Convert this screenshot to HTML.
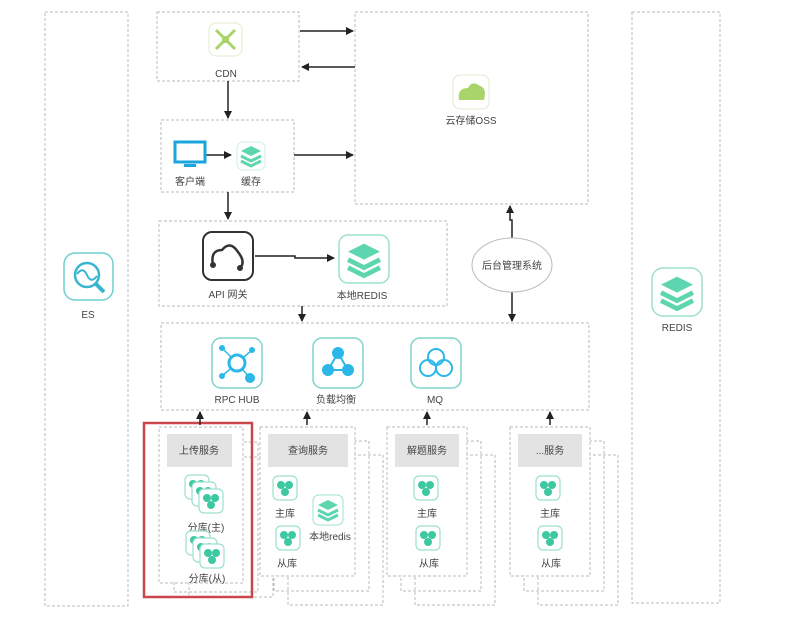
<!DOCTYPE html>
<html><head><meta charset="utf-8"><style>
body{margin:0;background:#fff;}
svg{display:block;font-family:"Liberation Sans","Noto Sans CJK SC",sans-serif;}
text{font-size:10px;fill:#444;text-anchor:middle;}
</style></head><body>
<svg width="791" height="621" viewBox="0 0 791 621" xmlns="http://www.w3.org/2000/svg">
<defs>
<marker id="a" markerWidth="8" markerHeight="8" refX="7" refY="4" orient="auto" markerUnits="userSpaceOnUse"><path d="M0,0 L8,4 L0,8 z" fill="#222"/></marker>
<g id="db"><rect x="-12" y="-12" width="24" height="24" rx="5" fill="#fff" stroke="#9de0cc" stroke-width="1.2"/><circle cx="-4" cy="-3" r="4" fill="#3cc8a0"/><circle cx="4" cy="-3" r="4" fill="#3cc8a0"/><circle cx="0" cy="4" r="4" fill="#3cc8a0"/></g>
<g id="stk"><path d="M-10,-4 L0,-9 L10,-4 L0,1z" fill="#5dd6b0"/><path d="M-10,1 L0,6 L10,1 M-10,6 L0,11 L10,6" fill="none" stroke="#5dd6b0" stroke-width="3"/></g>
</defs>
<g fill="none" stroke="#bbb" stroke-width="1" stroke-dasharray="3,2">
<rect x="45" y="12" width="83" height="594"/>
<rect x="632" y="12" width="88" height="591"/>
<rect x="157" y="12" width="142" height="69"/>
<rect x="355" y="12" width="233" height="192"/>
<rect x="161" y="120" width="133" height="72"/>
<rect x="159" y="221" width="288" height="85"/>
<rect x="161" y="323" width="428" height="87"/>
<rect x="189" y="457" width="84" height="140"/><rect x="174" y="442" width="84" height="150"/>
<rect x="288" y="455" width="95" height="150"/><rect x="274" y="441" width="95" height="150"/>
<rect x="415" y="455" width="80" height="150"/><rect x="401" y="441" width="80" height="150"/>
<rect x="538" y="455" width="80" height="150"/><rect x="524" y="441" width="80" height="150"/>
</g>
<g fill="#fff"><rect x="159.5" y="427.5" width="83" height="155"/><rect x="260.5" y="427.5" width="94" height="148"/><rect x="387.5" y="427.5" width="79" height="148"/><rect x="510.5" y="427.5" width="79" height="148"/></g>
<g fill="none" stroke="#bbb" stroke-dasharray="3,2"><rect x="159" y="427" width="84" height="156"/><rect x="260" y="427" width="95" height="149"/><rect x="387" y="427" width="80" height="149"/><rect x="510" y="427" width="80" height="149"/></g>
<rect x="144" y="423" width="108" height="174" fill="none" stroke="#c9474a" stroke-width="2.5"/>
<g fill="#e3e3e3"><rect x="167" y="434" width="65" height="33"/><rect x="268" y="434" width="80" height="33"/><rect x="395" y="434" width="64" height="33"/><rect x="518" y="434" width="64" height="33"/></g>
<text x="199" y="454">上传服务</text><text x="308" y="454">查询服务</text><text x="427" y="454">解题服务</text><text x="550" y="454">...服务</text>
<g stroke="#222" stroke-width="1.5" fill="none" marker-end="url(#a)">
<path d="M300,31 H353"/><path d="M355,67 H302"/>
<path d="M228,81 V118"/><path d="M294,155 H353"/><path d="M228,192 V219"/>
<path d="M204,155 H231"/>
<path d="M255,256 H295 V258 H334"/>
<path d="M302,306 V321"/>
<path d="M512,238 V220 H510 V206"/><path d="M512,292 V321"/>
<path d="M200,425 V412"/><path d="M307,425 V412"/><path d="M427,425 V412"/><path d="M550,425 V412"/>
</g>
<ellipse cx="512" cy="265" rx="40" ry="27" fill="#fff" stroke="#bbb"/>
<text x="512" y="269" font-size="9">后台管理系统</text>
<rect x="209" y="23" width="33" height="33" rx="7" fill="#fff" stroke="#dfeecb"/>
<path d="M216,30 L235,49 M235,30 L216,49" stroke="#a8d46a" stroke-width="3"/><rect x="222" y="36" width="7" height="7" fill="#a8d46a"/>
<text x="226" y="77">CDN</text>
<rect x="453" y="75" width="36" height="34" rx="7" fill="#fff" stroke="#dfeecb"/>
<path d="M459,100 Q457,88 468,88 Q472,80 480,86 Q487,88 484,100z" fill="#a8d46a"/>
<text x="471" y="124">云存储OSS</text>
<rect x="175" y="142" width="30" height="20" fill="#fff" stroke="#1aa6dd" stroke-width="3"/><rect x="184" y="164" width="12" height="3" fill="#1aa6dd"/>
<text x="190" y="185" font-size="9">客户端</text>
<rect x="237" y="142" width="28" height="28" rx="6" fill="#fff" stroke="#cdeee2"/><use href="#stk" x="251" y="155"/>
<text x="251" y="185" font-size="9">缓存</text>
<rect x="203" y="232" width="50" height="48" rx="9" fill="#fff" stroke="#333" stroke-width="2"/>
<path d="M213,265 Q210,250 222,250 Q230,240 238,252 Q246,262 240,268" fill="none" stroke="#333" stroke-width="2.5"/><circle cx="213" cy="265" r="3" fill="#333"/><circle cx="240" cy="268" r="3" fill="#333"/>
<text x="228" y="298">API 网关</text>
<rect x="339" y="235" width="50" height="48" rx="9" fill="#fff" stroke="#9de0cc" stroke-width="1.5"/>
<g transform="translate(364,258) scale(1.6)"><use href="#stk"/></g>
<text x="362" y="299">本地REDIS</text>
<rect x="212" y="338" width="50" height="50" rx="9" fill="#fff" stroke="#7fd3cb" stroke-width="1.5"/>
<path d="M222,348 L237,363 L252,350 M222,376 L237,363 L250,378" fill="none" stroke="#2bb8e8" stroke-width="1.5"/>
<circle cx="237" cy="363" r="8" fill="#fff" stroke="#2bb8e8" stroke-width="3"/><g fill="#2bb8e8"><circle cx="222" cy="348" r="3"/><circle cx="252" cy="350" r="3"/><circle cx="222" cy="376" r="3"/><circle cx="250" cy="378" r="5"/></g>
<text x="237" y="403">RPC HUB</text>
<rect x="313" y="338" width="50" height="50" rx="9" fill="#fff" stroke="#7fd3cb" stroke-width="1.5"/>
<path d="M338,353 L328,370 L348,370z" fill="none" stroke="#2bb8e8" stroke-width="2"/><g fill="#2bb8e8"><circle cx="338" cy="353" r="6"/><circle cx="328" cy="370" r="6"/><circle cx="348" cy="370" r="6"/></g>
<text x="336" y="403">负载均衡</text>
<rect x="411" y="338" width="50" height="50" rx="9" fill="#fff" stroke="#7fd3cb" stroke-width="1.5"/>
<g fill="none" stroke="#2bb8e8" stroke-width="2"><circle cx="436" cy="357" r="8"/><circle cx="428" cy="368" r="8"/><circle cx="444" cy="368" r="8"/></g>
<text x="435" y="403">MQ</text>
<rect x="64" y="253" width="49" height="47" rx="11" fill="#fff" stroke="#6fcfd0" stroke-width="1.5"/>
<circle cx="87" cy="275" r="12" fill="none" stroke="#39b6cf" stroke-width="2.5"/><path d="M96,284 L104,292" stroke="#39b6cf" stroke-width="4"/><path d="M77,274 Q83,266 87,275 Q91,284 97,276" fill="none" stroke="#39b6cf" stroke-width="2"/>
<text x="88" y="318">ES</text>
<rect x="652" y="268" width="50" height="48" rx="11" fill="#fff" stroke="#9de0cc" stroke-width="1.5"/>
<g transform="translate(677,291) scale(1.6)"><use href="#stk"/></g>
<text x="677" y="331">REDIS</text>
<use href="#db" x="197" y="487"/><use href="#db" x="204" y="494"/><use href="#db" x="211" y="501"/>
<text x="206" y="531">分库(主)</text>
<use href="#db" x="198" y="543"/><use href="#db" x="205" y="550"/><use href="#db" x="212" y="556"/>
<text x="207" y="582">分库(从)</text>
<use href="#db" x="285" y="488"/><text x="285" y="517">主库</text>
<use href="#db" x="288" y="538"/><text x="287" y="567">从库</text>
<rect x="313" y="495" width="30" height="30" rx="6" fill="#fff" stroke="#9de0cc"/><use href="#stk" x="328" y="509"/>
<text x="330" y="540">本地redis</text>
<use href="#db" x="426" y="488"/><text x="427" y="517">主库</text>
<use href="#db" x="428" y="538"/><text x="429" y="567">从库</text>
<use href="#db" x="548" y="488"/><text x="550" y="517">主库</text>
<use href="#db" x="550" y="538"/><text x="551" y="567">从库</text>
</svg>
</body></html>
